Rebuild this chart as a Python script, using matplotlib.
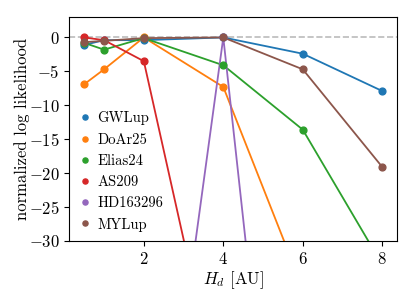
import matplotlib
matplotlib.use('Agg')
import matplotlib.pyplot as plt

plt.rcParams['font.family'] = 'serif'
plt.rcParams['font.serif'] = ['cmr10']
plt.rcParams['mathtext.fontset'] = 'cm'
plt.rcParams['axes.formatter.use_mathtext'] = True
plt.rcParams['font.size'] = 12

# scale height values
hd = [0.5, 1, 2, 4, 6, 8]

# normalized log likelihood per disc
names = ['GWLup', 'DoAr25', 'Elias24', 'AS209', 'HD163296', 'MYLup']
gwlup = [-1.1, -0.4, -0.4, 0.0, -2.4, -7.9]
doar25 = [-6.9, -4.7, 0.0, -7.3, -37.0, -60.0]
elias24 = [-0.8, -1.8, -0.1, -4.1, -13.6, -33.5]
as209 = [0.0, -0.4, -3.5, -56.0, -90.0, -120.0]
hd163296 = [-150.0, -120.0, -86.0, 0.0, -107.0, -200.0]
mylup = [-0.7, -0.5, -0.1, 0.0, -4.7, -19.1]
values = [gwlup, doar25, elias24, as209, hd163296, mylup]

colors = ['tab:blue', 'tab:orange', 'tab:green', 'tab:red', 'tab:purple', 'tab:brown']

fig, ax = plt.subplots(figsize=(4.15, 3), dpi=100)
ax.axhline(0, color='#bbbbbb', ls='--', lw=1.2, zorder=0)
for name, v, c in zip(names, values, colors):
    ax.plot(hd, v, color=c, lw=1.3)
    ax.scatter(hd, v, color=c, s=24, label=name, zorder=3)

ax.set_ylim(-30, 3)
ax.set_xlim(0.125, 8.375)
ax.set_xticks([2, 4, 6, 8])
ax.set_yticks([0, -5, -10, -15, -20, -25, -30])
ax.set_xlabel(r'$H_d$ [AU]', labelpad=2)
ax.set_ylabel('normalized log likelihood', labelpad=-1)
ax.legend(loc='center left', bbox_to_anchor=(-0.013, 0.31), frameon=False,
          fontsize=10.5, markerscale=0.75, handlelength=1.0, scatteryoffsets=[0.5],
          handletextpad=0.3, labelspacing=0.51)
plt.subplots_adjust(left=0.167, right=0.957, top=0.943, bottom=0.197)
plt.savefig('out.png')
